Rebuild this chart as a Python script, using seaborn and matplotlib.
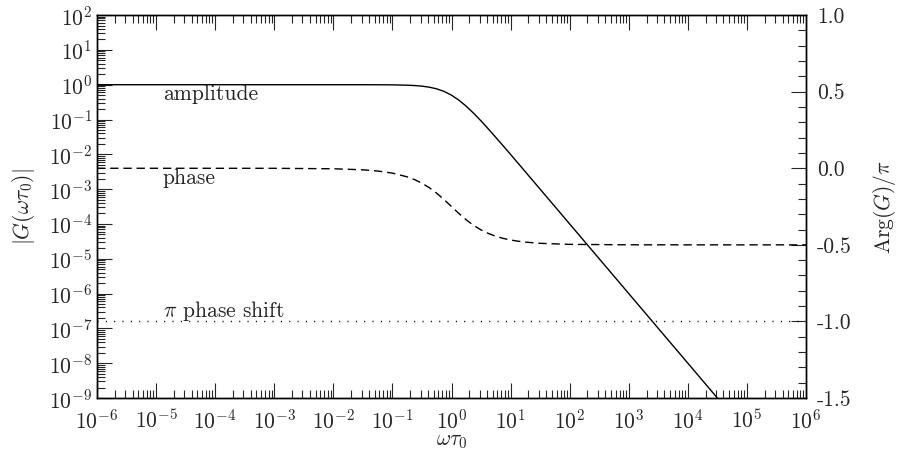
import numpy as np
import pandas as pd
import matplotlib
matplotlib.use("Agg")
import matplotlib.pyplot as plt
import matplotlib.ticker as mticker
import seaborn as sns

# ---- data (log10 of omega*tau0) ----
log_w = [-6.0, -3.0, -2.0, -1.5, -1.25, -1.0, -0.75, -0.625, -0.5, -0.375, -0.25, -0.125, 0.0,
         0.125, 0.25, 0.375, 0.5, 0.625, 0.75, 0.875, 1.0, 1.125, 1.25, 1.5, 2.0, 3.0, 4.0, 5.0, 6.0]
# log10 |G|
log_amp = [0.0, 0.0, -0.0000, -0.0004, -0.0014, -0.0043, -0.0137, -0.0238, -0.0414, -0.0711, -0.119,
           -0.1938, -0.301, -0.4438, -0.619, -0.8211, -1.041, -1.2737, -1.514, -1.7576, -2.004,
           -2.2524, -2.502, -3.001, -4.0, -6.0, -8.0, -10.0, -12.0]
# Arg(G)/pi
phase = [0.0, -0.0003, -0.0032, -0.0101, -0.0179, -0.0317, -0.0560, -0.0741, -0.0975, -0.1269, -0.1630,
         -0.2048, -0.25, -0.2952, -0.3370, -0.3731, -0.4025, -0.4258, -0.4440, -0.4578, -0.4683,
         -0.4760, -0.4821, -0.4899, -0.4968, -0.4997, -0.5, -0.5, -0.5]
shift_x = [1e-6, 1e6]
shift_y = [-1.0, -1.0]

right_ticks = [1.0, 0.5, 0.0, -0.5, -1.0, -1.5]
right_labels = ["1.0", "0.5", "0.0", "-0.5", "-1.0", "-1.5"]

df = pd.DataFrame({"w": [10.0 ** v for v in log_w],
                   "amp": [10.0 ** v for v in log_amp],
                   "phase": phase})

sns.set_style("ticks")
plt.rcParams["font.family"] = "serif"
plt.rcParams["font.serif"] = ["cmr10", "DejaVu Serif"]
plt.rcParams["mathtext.fontset"] = "cm"
plt.rcParams["axes.formatter.use_mathtext"] = True
plt.rcParams["axes.unicode_minus"] = False

FS = 15.5

fig = plt.figure(figsize=(8.98, 4.57), dpi=100)
ax = fig.add_axes([0.108, 0.129, 0.7896, 0.838])
ax2 = ax.twinx()

sns.lineplot(data=df, x="w", y="amp", ax=ax, color="black", lw=1.0)
sns.lineplot(data=df, x="w", y="phase", ax=ax2, color="black", lw=1.0,
             linestyle=(0, (6, 3.5)))
sns.lineplot(x=shift_x, y=shift_y, ax=ax2, color="black", lw=1.0,
             linestyle=(0, (0.8, 5.2)))

ax.set_xscale("log")
ax.set_yscale("log")
ax.set_xlim(1e-6, 1e6)
ax.set_ylim(1e-9, 1e2)
ax2.set_ylim(-1.5, 1.0)

ax.xaxis.set_major_locator(mticker.LogLocator(base=10, numticks=20))
ax.xaxis.set_minor_locator(mticker.LogLocator(base=10, subs=np.arange(2, 10), numticks=20))
ax.yaxis.set_major_locator(mticker.LogLocator(base=10, numticks=20))
ax.yaxis.set_minor_locator(mticker.LogLocator(base=10, subs=np.arange(2, 10), numticks=20))
ax.xaxis.set_minor_formatter(mticker.NullFormatter())
ax.yaxis.set_minor_formatter(mticker.NullFormatter())

ax2.yaxis.set_major_locator(mticker.FixedLocator(right_ticks))
ax2.yaxis.set_major_formatter(mticker.FixedFormatter(right_labels))
ax2.yaxis.set_minor_locator(mticker.MultipleLocator(0.1))

ax.tick_params(which="both", direction="in", top=True, right=False, labelsize=FS)
ax.tick_params(axis="x", which="major", pad=7.5)
ax.tick_params(which="major", length=11, width=0.8)
ax.tick_params(which="minor", length=5.5, width=0.8)
ax2.tick_params(which="both", direction="in", left=False, right=True, labelsize=FS, pad=8)
ax2.tick_params(which="major", length=11, width=0.8)
ax2.tick_params(which="minor", length=5.5, width=0.8)

ax.set_xlabel(r"$\omega\tau_0$", fontsize=FS, labelpad=-1)
ax.set_ylabel(r"$|G(\omega\tau_0)|$", fontsize=FS, labelpad=8)
ax2.set_ylabel(r"$\mathrm{Arg}(G)/\pi$", fontsize=FS, labelpad=14)

ax.text(1.3e-5, 0.36, "amplitude", fontsize=FS, ha="left", va="baseline")
ax2.text(1.3e-5, -0.104, "phase", fontsize=FS, ha="left", va="baseline")
ax2.text(1.3e-5, -0.97, r"$\pi$ phase shift", fontsize=FS, ha="left", va="baseline")

for a in (ax, ax2):
    for s in a.spines.values():
        s.set_linewidth(1.0)
        s.set_color("black")

fig.savefig("out.png", dpi=100)
